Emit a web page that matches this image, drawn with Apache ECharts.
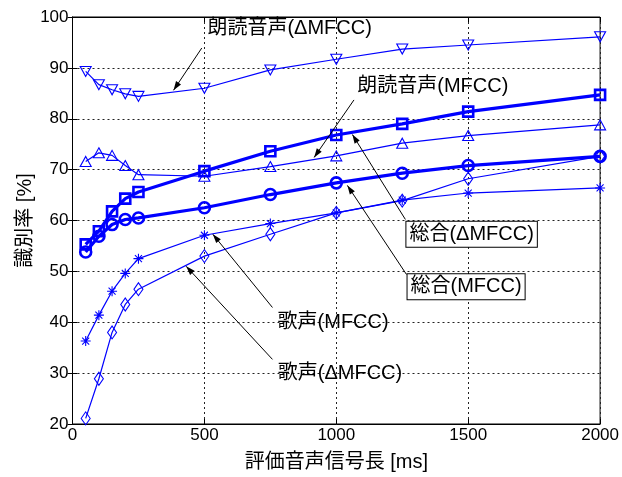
<!DOCTYPE html>
<html><head><meta charset="utf-8">
<script src="https://cdn.jsdelivr.net/npm/echarts@6/dist/echarts.min.js"></script>
<style>html,body{margin:0;padding:0;background:#fff}#c{width:622px;height:477px}</style>
</head><body><div id="c"></div><script>
// ---- data ----
const xValues = [50, 100, 150, 200, 250, 500, 750, 1000, 1250, 1500, 2000];
const rodokuDelta = [89.3, 86.7, 85.7, 84.9, 84.4, 86.0, 89.6, 91.7, 93.7, 94.5, 96.1];
const rodokuMfcc  = [55.3, 57.9, 61.8, 64.3, 65.6, 69.7, 73.6, 76.8, 79.0, 81.4, 84.7];
const sogoDelta   = [71.6, 73.3, 72.8, 70.8, 69.0, 68.7, 70.6, 72.7, 75.2, 76.7, 78.8];
const sogoMfcc    = [53.8, 56.9, 59.2, 60.2, 60.5, 62.5, 65.1, 67.4, 69.3, 70.8, 72.6];
const kaseiMfcc   = [36.3, 41.4, 46.1, 49.6, 52.5, 57.1, 59.4, 61.5, 64.0, 65.4, 66.4];
const kaseiDelta  = [21.1, 28.9, 38.0, 43.5, 46.5, 53.0, 57.3, 61.5, 63.9, 68.2, 72.6];
const xTickLabels = ['0', '500', '1000', '1500', '2000'];
const yTickLabels = ['20', '30', '40', '50', '60', '70', '80', '90', '100'];
const xTitle = '評価音声信号長 [ms]';
const yTitle = '識別率 [%]';
// annotations in data coordinates
const annoTexts = ['朗読音声(ΔMFCC)', '朗読音声(MFCC)', '総合(ΔMFCC)', '総合(MFCC)', '歌声(MFCC)', '歌声(ΔMFCC)'];
const annoAt    = [[823, 97.7], [1366, 86.3], [1513, 57.3], [1492, 47.0], [988, 39.9], [1014, 29.9]];
const annoTail  = [[490, 93.9], [1067, 83.7], [1262, 60.2], [1266, 49.4], [758, 42.9], [758, 32.7]];
const annoHead  = [[383, 85.6], [916, 72.4], [1061, 76.9], [1042, 66.9], [532, 57.3], [431, 51.0]];
const annoBoxed = [false, false, true, true, false, false];

// ---- chart ----
const FONT = '"Liberation Sans","Noto Sans CJK JP",sans-serif';
const BLUE = '#0000ff';
const ASTER = 'path://M5 0V10M0 5H10M1.5 1.5L8.5 8.5M8.5 1.5L1.5 8.5';
function pairs(ys){ return xValues.map((x,i)=>[x, ys[i]]); }
function ser(ys, symbol, size, thick, rotate){
  return {
    type:'line', data:pairs(ys), symbol:symbol, symbolSize:size, symbolRotate:rotate||0,
    showAllSymbol:true, clip:false, silent:true, animation:false,
    lineStyle:{color:BLUE, width: thick?3.2:1.2},
    itemStyle:{color:'rgba(0,0,0,0)', borderColor:BLUE, borderWidth: thick?2.6:1.1},
    emphasis:{disabled:true}, z: thick?3:2
  };
}
const chart = echarts.init(document.getElementById('c'), null, {renderer:'canvas'});
const axisBase = {
  axisLine:{show:true, lineStyle:{color:'#000', width:1}},
  axisTick:{show:true, inside:true, length:5, lineStyle:{color:'#000'}},
};
chart.setOption({
  animation:false,
  backgroundColor:'#fff',
  grid:{left:72.5, right:20, top:17, bottom:52, show:true, borderColor:'#000', borderWidth:1},
  xAxis:[
    Object.assign({type:'value', min:0, max:2000, interval:500, position:'bottom',
      name:xTitle, nameLocation:'middle', nameGap:28, nameMoveOverlap:false,
      nameTextStyle:{fontFamily:FONT, fontSize:20, color:'#000'},
      axisLabel:{fontFamily:FONT, fontSize:17, color:'#000', margin:3,
        formatter:(v)=>xTickLabels[Math.round(v/500)]},
      splitLine:{show:true, lineStyle:{color:'#222', type:[2,3], width:1}}}, axisBase),
    Object.assign({type:'value', min:0, max:2000, interval:500, position:'top',
      axisLabel:{show:false}, splitLine:{show:false}}, axisBase)
  ],
  yAxis:[
    Object.assign({type:'value', min:20, max:100, interval:10, position:'left',
      name:yTitle, nameLocation:'middle', nameGap:37, nameRotate:90, nameMoveOverlap:false,
      nameTextStyle:{fontFamily:FONT, fontSize:20, color:'#000'},
      axisLabel:{fontFamily:FONT, fontSize:17, color:'#000', margin:4,
        formatter:(v)=>yTickLabels[Math.round((v-20)/10)]},
      splitLine:{show:true, lineStyle:{color:'#222', type:[2,3], width:1}}}, axisBase),
    Object.assign({type:'value', min:20, max:100, interval:10, position:'right',
      axisLabel:{show:false}, splitLine:{show:false}}, axisBase)
  ],
  series:[
    ser(rodokuDelta, 'triangle', [11,10], false, 180),
    ser(sogoDelta, 'triangle', [11,10], false, 0),
    ser(kaseiMfcc, ASTER, 10, false, 0),
    ser(kaseiDelta, 'diamond', [9,13], false, 0),
    ser(rodokuMfcc, 'rect', 10, true, 0),
    ser(sogoMfcc, 'circle', 11, true, 0)
  ]
});

// annotations
const g = [];
annoTexts.forEach((t,i)=>{
  const p = chart.convertToPixel({gridIndex:0}, annoAt[i]);
  const a = chart.convertToPixel({gridIndex:0}, annoTail[i]);
  const b = chart.convertToPixel({gridIndex:0}, annoHead[i]);
  g.push({type:'line', silent:true, z:10, shape:{x1:a[0], y1:a[1], x2:b[0], y2:b[1]},
    style:{stroke:'#000', lineWidth:1}});
  const dx=b[0]-a[0], dy=b[1]-a[1], L=Math.hypot(dx,dy), ux=dx/L, uy=dy/L;
  const len=9, hw=3;
  const bx=b[0]-ux*len, by=b[1]-uy*len;
  g.push({type:'polygon', silent:true, z:10, shape:{points:[[b[0],b[1]],[bx-uy*hw,by+ux*hw],[bx+uy*hw,by-ux*hw]]},
    style:{fill:'#000'}});
  const st = {text:t, x:p[0], y:p[1], align:'center', verticalAlign:'middle',
    font:'20px ' + FONT, fill:'#000'};
  if (annoBoxed[i]) { st.backgroundColor='#fff'; st.borderColor='#000'; st.borderWidth=1; st.padding=[3,3,2,3]; }
  g.push({type:'text', silent:true, z:11, style:st});
});
chart.setOption({graphic:g});
</script></body></html>
